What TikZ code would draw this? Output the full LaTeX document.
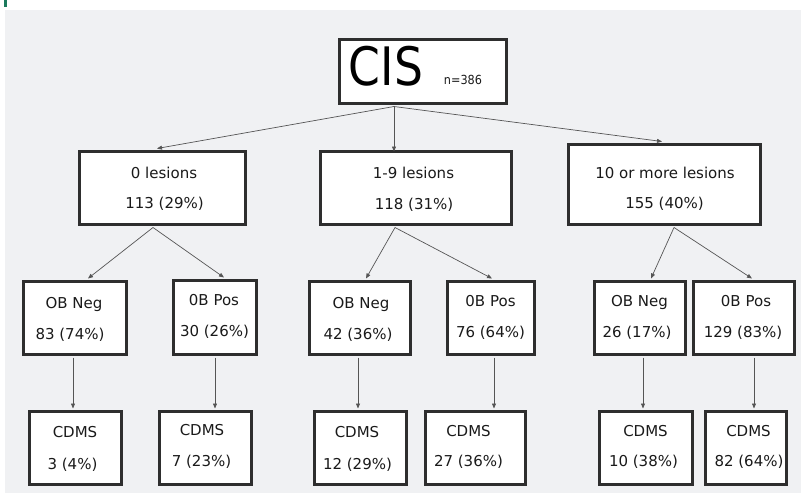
\documentclass[tikz,border=0pt]{standalone}
\usepackage{fontspec}
\setmainfont{DejaVu Sans}
\usepackage{graphicx}
\usetikzlibrary{arrows.meta}
\definecolor{bgc}{HTML}{F0F1F3}
\definecolor{bar}{HTML}{1B7A5C}
\definecolor{boxline}{HTML}{2E2E2E}
\definecolor{conn}{HTML}{555555}
\definecolor{txtc}{HTML}{1A1A1A}
\begin{document}
\begin{tikzpicture}[x=1pt,y=-1pt,
  box/.style={draw=boxline, line width=3pt, fill=white, rectangle, inner sep=0pt},
  txt/.style={anchor=base, inner sep=0pt, text=txtc, font=\fontsize{15}{18}\selectfont},
  conn/.style={draw=conn, line width=0.7pt, -{Triangle[length=5pt,width=4pt]}}]
\useasboundingbox (0,0) rectangle (801,493);
\fill[white] (0,0) rectangle (801,493);
\fill[bgc] (5,10) rectangle (801,493);
\fill[bar] (4,0) rectangle (6.5,7);

% boxes
\node[box, minimum width=167pt, minimum height=64pt] (cis) at (423,71.5) {};
\node[box, minimum width=166pt, minimum height=73pt] (l0) at (162.5,188) {};
\node[box, minimum width=191pt, minimum height=73pt] (l19) at (416,188) {};
\node[box, minimum width=192pt, minimum height=80pt] (l10) at (664.5,184.5) {};
\node[box, minimum width=103pt, minimum height=73pt] (n1) at (75,318) {};
\node[box, minimum width=83pt, minimum height=74pt] (p1) at (215,317.5) {};
\node[box, minimum width=101pt, minimum height=73pt] (n2) at (360,318) {};
\node[box, minimum width=87pt, minimum height=73pt] (p2) at (491,318) {};
\node[box, minimum width=91pt, minimum height=73pt] (n3) at (640,318) {};
\node[box, minimum width=101pt, minimum height=73pt] (p3) at (744,318) {};
\node[box, minimum width=92pt, minimum height=73pt] (c1) at (75.5,448) {};
\node[box, minimum width=92pt, minimum height=73pt] (c2) at (205.5,448) {};
\node[box, minimum width=92pt, minimum height=73pt] (c3) at (360.5,448) {};
\node[box, minimum width=100pt, minimum height=73pt] (c4) at (475.5,448) {};
\node[box, minimum width=93pt, minimum height=73pt] (c5) at (646,448) {};
\node[box, minimum width=81pt, minimum height=73pt] (c6) at (746,448) {};

% texts
\node[inner sep=0pt, text=black, font=\fontsize{53}{60}\selectfont] (cist) at (386,66.5) {\scalebox{0.86}[1]{CIS}};
\node[inner sep=0pt, text=txtc, font=\fontsize{12.5}{14}\selectfont] (cisn) at (463,79.5) {\scalebox{0.9}[1]{n=386}};

\node[txt] (l0a) at (164,178.5) {0 lesions};
\node[txt] (l0b) at (164.5,208.5) {113 (29\%)};
\node[txt] (l19a) at (413.5,178.5) {1-9 lesions};
\node[txt] (l19b) at (414,209.5) {118 (31\%)};
\node[txt] (l10a) at (665,178.5) {10 or more lesions};
\node[txt] (l10b) at (664.5,208.5) {155 (40\%)};

\node[txt] (n1a) at (74,308.5) {OB Neg};
\node[txt] (n1b) at (70,339.5) {83 (74\%)};
\node[txt] (p1a) at (214,305.5) {0B Pos};
\node[txt] (p1b) at (214.5,336.5) {30 (26\%)};
\node[txt] (n2a) at (361,308.5) {OB Neg};
\node[txt] (n2b) at (358,339.5) {42 (36\%)};
\node[txt] (p2a) at (490.5,306.5) {0B Pos};
\node[txt] (p2b) at (490.5,337) {76 (64\%)};
\node[txt] (n3a) at (639.5,306.5) {OB Neg};
\node[txt] (n3b) at (637,337) {26 (17\%)};
\node[txt] (p3a) at (746,306.5) {0B Pos};
\node[txt] (p3b) at (743,337) {129 (83\%)};

\node[txt] (c1a) at (75,437.5) {CDMS};
\node[txt] (c1b) at (72.5,469.5) {3 (4\%)};
\node[txt] (c2a) at (202,435.5) {CDMS};
\node[txt] (c2b) at (201.5,466.5) {7 (23\%)};
\node[txt] (c3a) at (357,437.5) {CDMS};
\node[txt] (c3b) at (357.5,469.5) {12 (29\%)};
\node[txt] (c4a) at (468.5,436.5) {CDMS};
\node[txt] (c4b) at (468.5,466.5) {27 (36\%)};
\node[txt] (c5a) at (645.5,436.5) {CDMS};
\node[txt] (c5b) at (643.5,466.5) {10 (38\%)};
\node[txt] (c6a) at (748.5,436.5) {CDMS};
\node[txt] (c6b) at (749,466.5) {82 (64\%)};

% connectors
\draw[conn] ([xshift=-29pt,yshift=-1.5pt]cis.south) -- ([xshift=-5.5pt,yshift=1.5pt]l0.north);
\draw[conn] ([xshift=-29pt,yshift=-1.5pt]cis.south) -- ([xshift=-29pt,yshift=-1.5pt]cis.south |- l19.north) ;
\draw[conn] ([xshift=-29pt,yshift=-1.5pt]cis.south) -- ([xshift=-2.5pt,yshift=1.5pt]l10.north);

\draw[conn] ([xshift=-9.5pt,yshift=-1.5pt]l0.south) -- ([xshift=13pt,yshift=1.5pt]n1.north);
\draw[conn] ([xshift=-9.5pt,yshift=-1.5pt]l0.south) -- ([xshift=9pt,yshift=1.5pt]p1.north);
\draw[conn] ([xshift=-21pt,yshift=-1.5pt]l19.south) -- ([xshift=6pt,yshift=1.5pt]n2.north);
\draw[conn] ([xshift=-21pt,yshift=-1.5pt]l19.south) -- ([xshift=1pt,yshift=1.5pt]p2.north);
\draw[conn] ([xshift=9.5pt,yshift=-1.5pt]l10.south) -- ([xshift=11pt,yshift=1.5pt]n3.north);
\draw[conn] ([xshift=9.5pt,yshift=-1.5pt]l10.south) -- ([xshift=8pt,yshift=1.5pt]p3.north);

\draw[conn] ([xshift=-2pt,yshift=-1.5pt]n1.south) -- ([xshift=-2pt,yshift=1.5pt]n1.south |- c1.north);
\draw[conn] ([yshift=-1.5pt]p1.south) -- ([yshift=1.5pt]p1.south |- c2.north);
\draw[conn] ([xshift=-2pt,yshift=-1.5pt]n2.south) -- ([xshift=-2pt,yshift=1.5pt]n2.south |- c3.north);
\draw[conn] ([xshift=3pt,yshift=-1.5pt]p2.south) -- ([xshift=3pt,yshift=1.5pt]p2.south |- c4.north);
\draw[conn] ([xshift=3pt,yshift=-1.5pt]n3.south) -- ([xshift=3pt,yshift=1.5pt]n3.south |- c5.north);
\draw[conn] ([xshift=10pt,yshift=-1.5pt]p3.south) -- ([xshift=10pt,yshift=1.5pt]p3.south |- c6.north);
\end{tikzpicture}
\end{document}
